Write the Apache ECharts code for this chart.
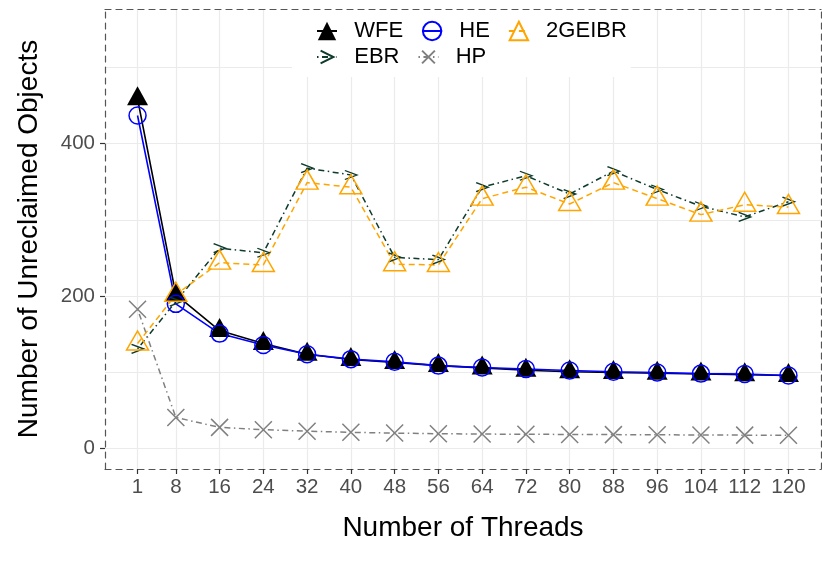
<!DOCTYPE html>
<html>
<head>
<meta charset="utf-8">
<script src="https://cdn.jsdelivr.net/npm/echarts@6/dist/echarts.min.js"></script>
<style>
html,body{margin:0;padding:0;background:#fff;}
#chart{width:822px;height:565px;}
</style>
</head>
<body>
<div id="chart"></div>
<script>
var threads = [1, 8, 16, 24, 32, 40, 48, 56, 64, 72, 80, 88, 96, 104, 112, 120];
var wfe    = [459, 202, 155, 138, 124, 117, 113, 109, 106, 103, 101, 100, 99, 98, 97, 96];
var he     = [437, 190, 151, 136, 124, 117.5, 114, 109, 106.5, 104.5, 102.5, 101, 100, 98.5, 98, 96];
var geibr  = [138, 202, 244, 241, 349, 343, 242, 241, 328, 343, 321, 349, 328, 307, 320, 317];
var ebr    = [131, 193, 263, 257, 368, 359, 251, 248, 343, 358, 334, 364, 340, 318, 304, 324];
var hp     = [183, 41, 28, 25, 23, 21.5, 20.5, 19.7, 19.2, 19, 18.7, 18.5, 18.3, 18, 17.8, 17.6];
var legendRow1 = ['WFE', 'HE', '2GEIBR'];
var legendRow2 = ['EBR', 'HP'];
var yLabelTicks = [0, 200, 400];
var yGridTicks = [0, 100, 200, 300, 400, 500];

function pairs(vals) {
  return threads.map(function (t, i) { return [t, vals[i]]; });
}

var FONT = 'Liberation Sans';
var frameLine = { show: true, onZero: false, lineStyle: { color: '#555', width: 1.2, type: [6, 5] } };
var legendText = { fontFamily: FONT, fontSize: 22, color: '#000' };
function legendFmt(name) { return '  ' + name; }

var chart = echarts.init(document.getElementById('chart'), null, { renderer: 'canvas' });
chart.setOption({
  backgroundColor: '#fff',
  animation: false,
  textStyle: { fontFamily: FONT },
  grid: { left: 105, right: 1, top: 9, bottom: 96, containLabel: false },
  legend: [{
    data: legendRow1,
    left: 292, top: 10, z: 4,
    orient: 'horizontal',
    backgroundColor: '#fff',
    padding: [10, 4, 35, 24],
    itemWidth: 20, itemHeight: 23, itemGap: 18,
    formatter: legendFmt,
    textStyle: legendText
  }, {
    data: legendRow2,
    left: 316, top: 46, z: 5,
    orient: 'horizontal',
    padding: 0,
    itemWidth: 20, itemHeight: 16, itemGap: 18,
    formatter: legendFmt,
    textStyle: legendText
  }],
  xAxis: [{
    type: 'value', min: -4.95, max: 125.95, position: 'bottom',
    name: 'Number of Threads', nameLocation: 'middle', nameGap: 45,
    nameTextStyle: { fontFamily: FONT, fontSize: 28, color: '#000' },
    axisLine: frameLine,
    axisTick: { show: true, length: 5, customValues: threads, lineStyle: { color: '#333', width: 1.2 } },
    axisLabel: { customValues: threads, fontSize: 20.5, color: '#4d4d4d', margin: 8, fontFamily: FONT },
    splitLine: { show: true, lineStyle: { color: '#ebebeb', width: 1.2 } }
  }, {
    type: 'value', min: -4.95, max: 125.95, position: 'top',
    axisLine: frameLine, axisTick: { show: false }, axisLabel: { show: false }, splitLine: { show: false }
  }],
  yAxis: [{
    type: 'value', min: -26.6, max: 576.7, position: 'left',
    name: 'Number of Unreclaimed Objects', nameLocation: 'middle', nameGap: 62,
    nameTextStyle: { fontFamily: FONT, fontSize: 28, color: '#000' },
    axisLine: frameLine,
    axisTick: { show: true, length: 5, customValues: yLabelTicks, lineStyle: { color: '#333', width: 1.2 } },
    axisLabel: { customValues: yLabelTicks, fontSize: 20.5, color: '#4d4d4d', margin: 10, fontFamily: FONT },
    splitLine: { show: false }
  }, {
    type: 'value', min: -26.6, max: 576.7, position: 'right',
    axisLine: frameLine,
    axisTick: { show: false, customValues: yGridTicks },
    axisLabel: { show: false, customValues: yGridTicks },
    splitLine: { show: true, lineStyle: { color: '#ebebeb', width: 1.2 } }
  }],
  series: [{
    name: 'WFE', type: 'line', data: pairs(wfe),
    symbol: 'triangle', symbolSize: [21, 19], symbolOffset: [0, -3],
    itemStyle: { color: '#000' },
    lineStyle: { color: '#000', width: 1.6 }
  }, {
    name: 'HE', type: 'line', data: pairs(he),
    symbol: 'circle', symbolSize: 17,
    itemStyle: { color: 'rgba(0,0,0,0)', borderColor: '#0000ff', borderWidth: 1.5 },
    lineStyle: { color: '#0000ff', width: 1.6 }
  }, {
    name: 'EBR', type: 'line', data: pairs(ebr),
    symbol: 'path://M0,0L10,5L0,10', symbolSize: [12, 9],
    itemStyle: { color: 'rgba(0,0,0,0)', borderColor: '#0e3b2a', borderWidth: 1.5 },
    lineStyle: { color: '#0e3b2a', width: 1.5, type: [1.5, 3.5, 6, 3.5] }
  }, {
    name: 'HP', type: 'line', data: pairs(hp),
    symbol: 'path://M0,0L10,10M10,0L0,10', symbolSize: 17,
    itemStyle: { color: 'rgba(0,0,0,0)', borderColor: '#808080', borderWidth: 1.5 },
    lineStyle: { color: '#808080', width: 1.5, type: [1.5, 3.5, 6, 3.5] }
  }, {
    name: '2GEIBR', type: 'line', data: pairs(geibr),
    symbol: 'triangle', symbolSize: [22, 19], symbolOffset: [0, -3],
    itemStyle: { color: 'rgba(0,0,0,0)', borderColor: '#ffa500', borderWidth: 1.5 },
    lineStyle: { color: '#ffa500', width: 1.5, type: [6, 4] }
  }]
});
</script>
</body>
</html>
